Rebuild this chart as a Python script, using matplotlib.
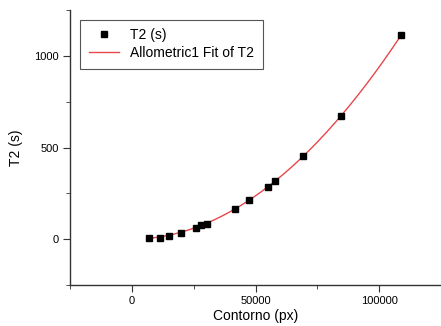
import numpy as np
import matplotlib.pyplot as plt
from matplotlib.ticker import MultipleLocator

plt.rcParams['font.family'] = ['Liberation Sans', 'DejaVu Sans']

contorno = [7000, 11200, 15100, 20000, 25800, 28100, 30400, 41700,
            47400, 54900, 57900, 69000, 84500, 109000]
t2 = [4, 7, 18, 35, 60, 75, 85, 164, 215, 287, 318, 451, 671, 1115]

x = np.array(contorno, dtype=float)
y = np.array(t2, dtype=float)

# allometric fit y = a * x^b (least squares over a grid of b)
best = None
for b in np.linspace(1.5, 2.5, 1001):
    xb = x ** b
    a = np.sum(y * xb) / np.sum(xb * xb)
    sse = np.sum((y - a * xb) ** 2)
    if best is None or sse < best[2]:
        best = (a, b, sse)
a_fit, b_fit, _ = best
xf = np.linspace(x.min(), x.max(), 300)
yf = a_fit * xf ** b_fit

fig = plt.figure(figsize=(4.41, 3.26), dpi=100)
ax = fig.add_axes([0.159, 0.126, 0.841, 0.843])

ax.plot(x, y, 's', color='black', ms=4.5, label='T2 (s)', zorder=3)
ax.plot(xf, yf, '-', color='#e8474a', lw=1.0, label='Allometric1 Fit of T2', zorder=2)

ax.set_xlim(-25000, 125000)
ax.set_ylim(-250, 1250)
ax.set_xticks([0, 50000, 100000])
ax.set_yticks([0, 500, 1000])
ax.xaxis.set_minor_locator(MultipleLocator(25000))
ax.yaxis.set_minor_locator(MultipleLocator(250))

for s in ['top', 'right']:
    ax.spines[s].set_visible(False)
for s in ['left', 'bottom']:
    ax.spines[s].set_color('#333333')
    ax.spines[s].set_linewidth(1.0)
ax.tick_params(which='major', direction='out', length=5, color='#333333', labelsize=8, pad=3)
ax.tick_params(which='minor', direction='out', length=3, color='#333333')

ax.set_xlabel('Contorno (px)', fontsize=10, labelpad=2)
ax.set_ylabel('T2 (s)', fontsize=10, labelpad=8)

leg = ax.legend(loc='upper left', bbox_to_anchor=(0.009, 0.99), fontsize=10,
                fancybox=False, edgecolor='#555555', framealpha=1,
                handlelength=2.2, borderpad=0.6, labelspacing=0.3)
leg.get_frame().set_linewidth(0.8)

fig.savefig('out.png', dpi=100)
plt.close()
